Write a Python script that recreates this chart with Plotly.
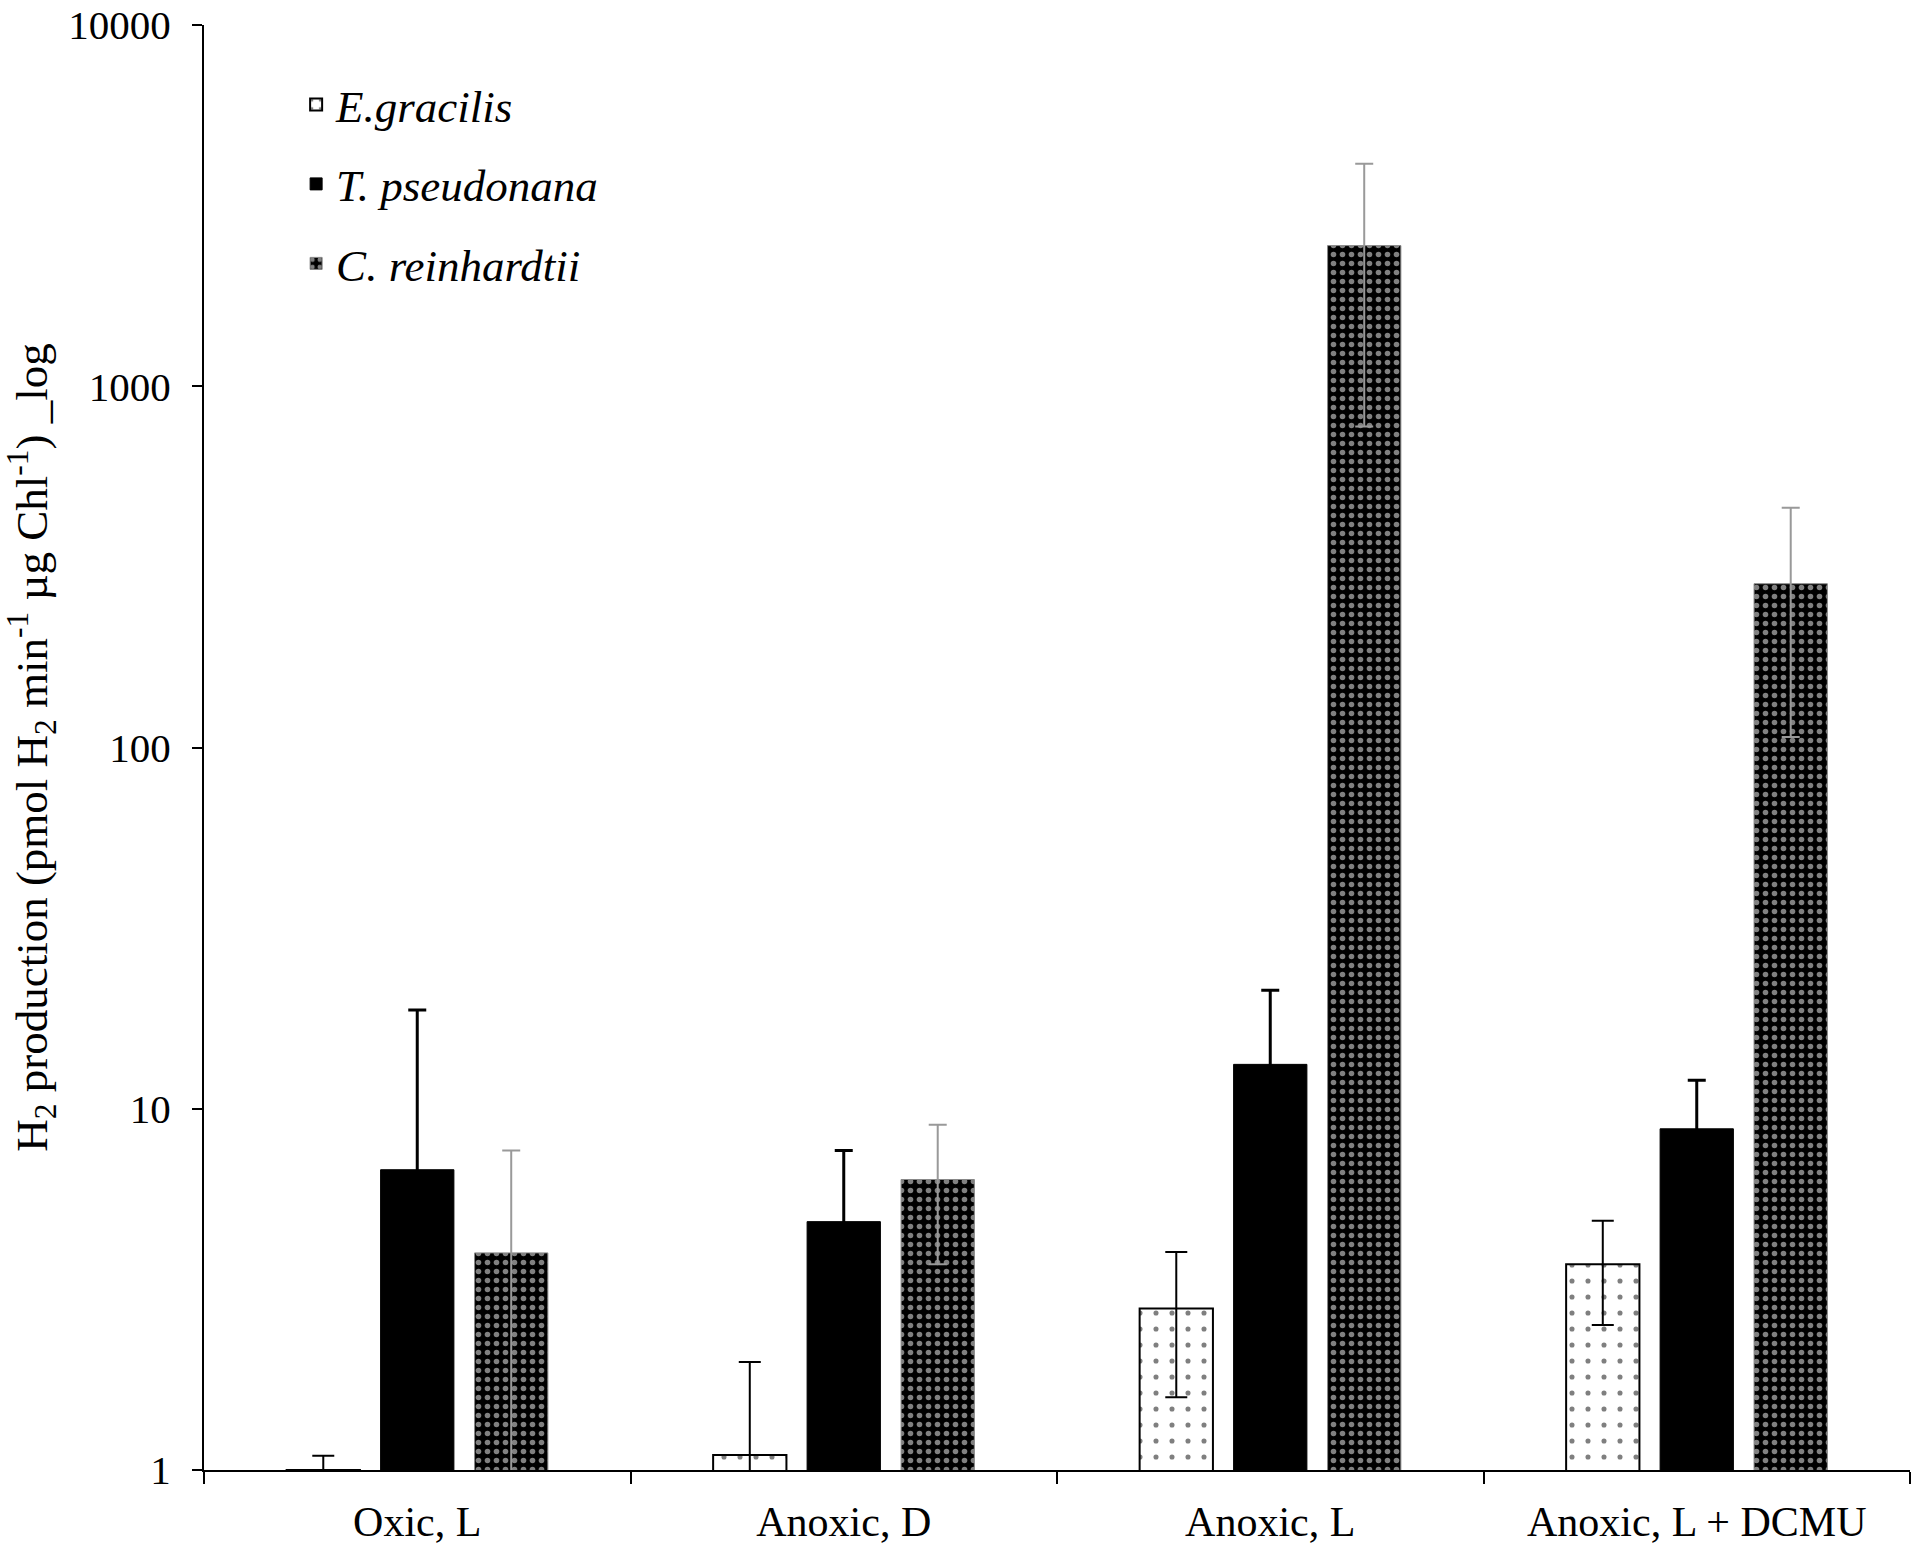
import plotly.graph_objects as go

conditions = ['Oxic, L', 'Anoxic, D', 'Anoxic, L', 'Anoxic, L + DCMU']

# mean H2 production and error
egracilis = [1.0, 1.10, 2.80, 3.71]
egracilis_err = [0.095, 0.89, 1.21, 1.19]

tpseudonana = [6.78, 4.87, 13.27, 8.80]
tpseudonana_err = [12.0, 2.79, 8.0, 3.2]

creinhardtii = [3.99, 6.37, 2451, 284]
creinhardtii_err = [3.67, 2.66, 1677, 177]

font = 'Liberation Serif'

fig = go.Figure()

fig.add_trace(go.Bar(
    x=conditions, y=egracilis, name='<i>E.gracilis</i>',
    legendgroup='eg',
    marker=dict(color='white', line=dict(color='black', width=2),
                pattern=dict(shape='.', fgcolor='black', bgcolor='white',
                             size=16, solidity=0.08)),
    error_y=dict(type='data', array=egracilis_err, symmetric=True,
                 color='black', thickness=2, width=11),
))

fig.add_trace(go.Bar(
    x=conditions, y=tpseudonana, name='<i>T. pseudonana</i>',
    legendgroup='tp',
    marker=dict(color='black', line=dict(color='black', width=1)),
    error_y=dict(type='data', array=tpseudonana_err, symmetric=True,
                 color='black', thickness=3, width=9),
))

# black fill with small white dots
fig.add_trace(go.Bar(
    x=conditions, y=creinhardtii, name='<i>C. reinhardtii</i>',
    legendgroup='cr',
    marker=dict(color='black', line=dict(color='#888888', width=1),
                pattern=dict(shape='.', fgcolor='white', bgcolor='black',
                             size=9, solidity=0.3)),
    error_y=dict(type='data', array=creinhardtii_err, symmetric=True,
                 color='#999999', thickness=2, width=9),
))

fig.update_layout(
    width=1916, height=1548,
    margin=dict(l=204, r=6, t=25, b=78),
    plot_bgcolor='white', paper_bgcolor='white',
    font=dict(family=font, size=41, color='black'),
    barmode='group', bargap=0.339, bargroupgap=0.22,
    legend=dict(x=0.054, y=0.9698, xanchor='left', yanchor='top',
                bgcolor='rgba(0,0,0,0)', tracegroupgap=18,
                font=dict(family=font, size=45)),
    showlegend=True,
)

fig.update_xaxes(
    type='category', showline=True, linecolor='black', linewidth=2,
    ticks='outside', tickson='boundaries', ticklen=12, tickwidth=2,
    tickcolor='black', ticklabelstandoff=14, showgrid=False, zeroline=False,
    tickfont=dict(family=font, size=42), automargin=False,
)

fig.update_yaxes(
    type='log', range=[0, 4], showline=True, linecolor='black', linewidth=2,
    ticks='outside', ticklen=10, tickwidth=2, tickcolor='black',
    tickvals=[1, 10, 100, 1000, 10000],
    ticktext=['1', '10', '100', '1000', '10000'],
    ticklabelstandoff=13, ticklabeloverflow='allow', automargin=False,
    showgrid=False, zeroline=False,
    title=dict(text='H<sub>2</sub> production (pmol H<sub>2</sub> min<sup>-1</sup> µg Chl<sup>-1</sup>) _log',
               standoff=8, font=dict(family=font, size=45)),
)

# drop the page's default 8px body margin so the figure sits at the corner
fig.write_html('out.html', config={'displayModeBar': False},
               post_script="document.body.style.margin='0';")
